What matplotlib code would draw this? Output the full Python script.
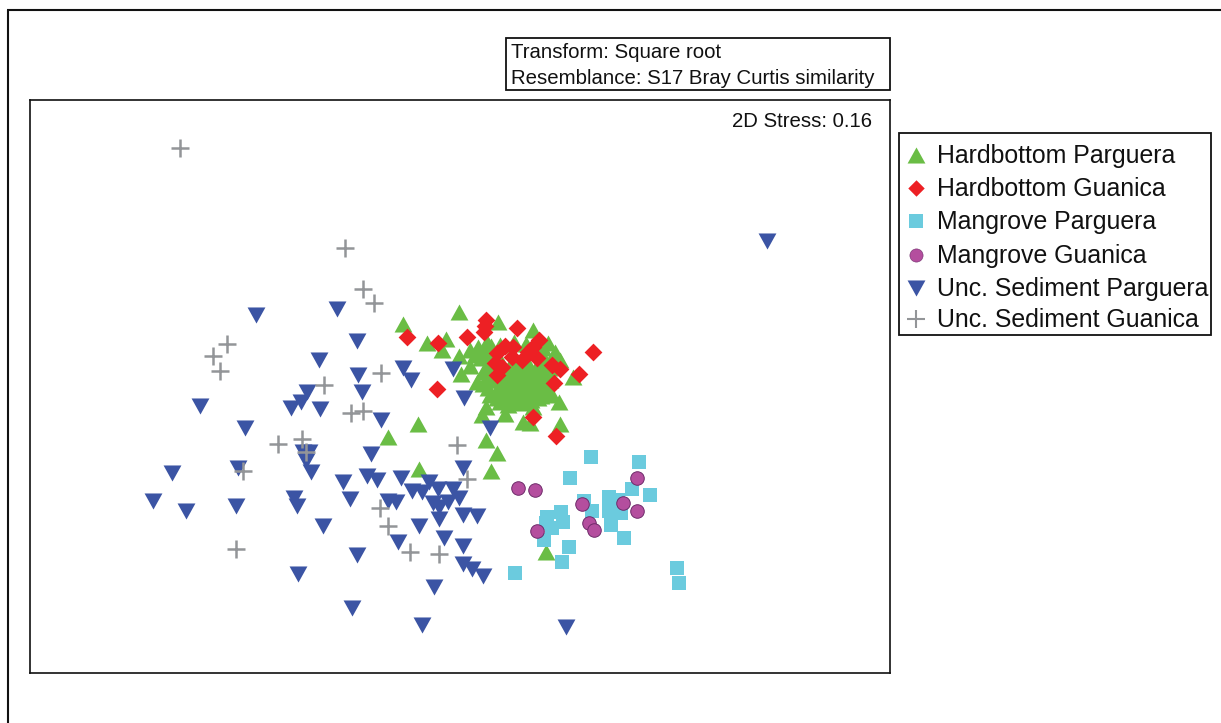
import matplotlib
matplotlib.use("Agg")
import matplotlib.pyplot as plt
from matplotlib.patches import Rectangle

plt.rcParams['font.family'] = ['Liberation Sans', 'DejaVu Sans']

# MDS ordination scores
hb_parguera = [(459,312),(403,324),(498,322),(533,330),(427,343),(446,339),(442,350),(459,356),(470,366),(461,374),
 (477,382),(478,347),(487,342),(487,353),(548,343),(543,348),(560,360),(573,377),(559,402),(418,424),(388,437),
 (486,440),(497,453),(560,424),(523,422),(530,423),(505,414),(482,415),(486,407),(500,402),(508,405),(523,403),
 (533,407),(491,471),(419,469),(546,552),(490,363),(483,372),(492,380),(498,388),(505,395),(512,392),(520,396),
 (530,395),(538,390),(545,385),(515,370),(525,368),(535,372),(520,378),(510,380),(528,382),(518,386),(505,378),
 (540,378),(548,375),(512,362),(527,362),(496,372),(500,360),(475,355),(470,350),(555,352),(552,395),(490,395),
 (508,372),(515,376),(522,372),(530,376),(537,366),(544,368),(506,386),(513,384),(524,388),(533,388),(541,396),
 (516,393),(526,378),(534,380),(512,368),(519,364),(503,393),(495,380),(488,388),(486,348),(481,358),(491,346),
 (500,345),(514,342),(526,344),(546,392),(550,380),(508,398),(522,400),(531,400),(516,381),(523,383),(529,390),
 (519,390),(511,375),(537,384),(543,376),(500,372),(494,358),(486,368),(489,376),(483,384),(545,360),(538,398),
 (497,398),(512,402),(503,366),(549,368)]
hb_guanica = [(407,337),(438,343),(467,337),(486,320),(485,326),(484,332),(517,328),(593,352),(579,374),(560,369),
 (552,365),(554,383),(437,389),(533,417),(556,436),(539,340),(533,347),(528,352),(537,358),(522,360),(512,357),
 (513,347),(505,346),(497,353),(495,363),(502,367),(497,375)]
mg_parguera = [(591,457),(639,462),(570,478),(632,489),(650,495),(584,501),(609,497),(618,500),(609,511),(621,513),
 (592,511),(561,512),(563,522),(547,517),(546,523),(552,528),(544,540),(611,525),(624,538),(569,547),(562,562),
 (515,573),(677,568),(679,583)]
mg_guanica = [(518,488),(535,490),(637,478),(582,504),(623,503),(637,511),(589,523),(594,530),(537,531)]
us_parguera = [(371,454),(463,468),(367,476),(377,480),(401,478),(343,482),(350,499),(412,491),(422,492),(429,482),
 (438,489),(453,489),(459,498),(448,502),(433,503),(439,507),(439,519),(463,515),(477,516),(388,501),(396,502),
 (419,526),(444,538),(463,546),(398,542),(357,555),(463,564),(472,569),(483,576),(434,587),(767,241),(337,309),
 (256,315),(357,341),(319,360),(403,368),(411,380),(453,369),(464,398),(358,375),(362,392),(307,392),(301,402),
 (291,408),(320,409),(200,406),(245,428),(303,452),(309,452),(306,461),(311,472),(238,468),(172,473),(153,501),
 (186,511),(236,506),(294,498),(297,506),(323,526),(298,574),(352,608),(422,625),(566,627),(490,428),(381,420)]
us_guanica = [(180,148),(345,248),(363,289),(374,303),(227,344),(213,356),(220,371),(381,373),(324,385),(351,413),
 (363,411),(278,444),(302,439),(457,445),(306,452),(243,471),(467,479),(380,508),(388,526),(410,552),(439,554),(236,549)]

legend_labels = ["Hardbottom Parguera","Hardbottom Guanica","Mangrove Parguera",
                 "Mangrove Guanica","Unc. Sediment Parguera","Unc. Sediment Guanica"]
text_lines = ["Transform: Square root","Resemblance: S17 Bray Curtis similarity"]
stress = "2D Stress: 0.16"

W, H = 1221, 723
fig = plt.figure(figsize=(W/100, H/100), dpi=100, facecolor='white')

def box(x0, y0, x1, y1):
    return [x0/W, 1-y1/H, (x1-x0)/W, (y1-y0)/H]

UP = [(-1, -0.9), (1, -0.9), (0, 0.9)]
DOWN = [(-1, 0.9), (1, 0.9), (0, -0.9)]

bg = fig.add_axes([0, 0, 1, 1]); bg.set_xlim(0, W); bg.set_ylim(H, 0); bg.axis('off')
bg.plot([7.5, 7.5], [723, 10], color='#111111', lw=1.5, solid_capstyle='butt')
bg.plot([7, 1221], [10, 10], color='#111111', lw=1.5, solid_capstyle='butt')
bg.add_patch(Rectangle((506, 38), 384, 52, fc='white', ec='#111111', lw=1.3))
bg.text(511, 53, text_lines[0], fontsize=14.7, va='center', color='#111111')
bg.text(511, 78, text_lines[1], fontsize=14.7, va='center', color='#111111')

ax = fig.add_axes(box(30, 100, 890, 673))
ax.set_xlim(30, 890); ax.set_ylim(673, 100)
ax.set_xticks([]); ax.set_yticks([])
for s in ax.spines.values():
    s.set_linewidth(1.2); s.set_color('#111111')

styles = [
 (hb_parguera, dict(marker=UP, s=165, c='#6ABD45', linewidths=0)),
 (mg_parguera, dict(marker='s', s=92, c='#6BCBDE', linewidths=0)),
 (mg_guanica, dict(marker='o', s=95, c='#B44E9E', edgecolors='#6E2A6A', linewidths=0.7)),
 (us_parguera, dict(marker=DOWN, s=165, c='#3B54A4', linewidths=0)),
 (us_guanica, dict(marker='+', s=150, c='#939598', linewidths=1.8)),
 (hb_guanica, dict(marker='D', s=82, c='#ED2024', linewidths=0)),
]
for pts, st in styles:
    ax.scatter([p[0] for p in pts], [p[1] for p in pts], **st)
ax.text(872, 122, stress, fontsize=14.7, ha='right', va='center', color='#111111')

bg2 = fig.add_axes([0, 0, 1, 1], facecolor='none'); bg2.set_xlim(0, W); bg2.set_ylim(H, 0); bg2.axis('off')
bg2.add_patch(Rectangle((899, 133), 312, 202, fc='white', ec='#111111', lw=1.3))
ys = [155, 188, 221, 255, 288, 319]
mk = [dict(marker=UP, s=165, c='#6ABD45', linewidths=0), dict(marker='D', s=70, c='#ED2024', linewidths=0),
      dict(marker='s', s=88, c='#6BCBDE', linewidths=0), dict(marker='o', s=90, c='#B44E9E', edgecolors='#6E2A6A', linewidths=0.4),
      dict(marker=DOWN, s=165, c='#3B54A4', linewidths=0), dict(marker='+', s=150, c='#939598', linewidths=1.5)]
for y, lab, m in zip(ys, legend_labels, mk):
    bg2.scatter([916], [y], **m)
    bg2.text(937, y + 1, lab, fontsize=17.9, va='center', color='#111111')

fig.savefig('out.png', dpi=100)
